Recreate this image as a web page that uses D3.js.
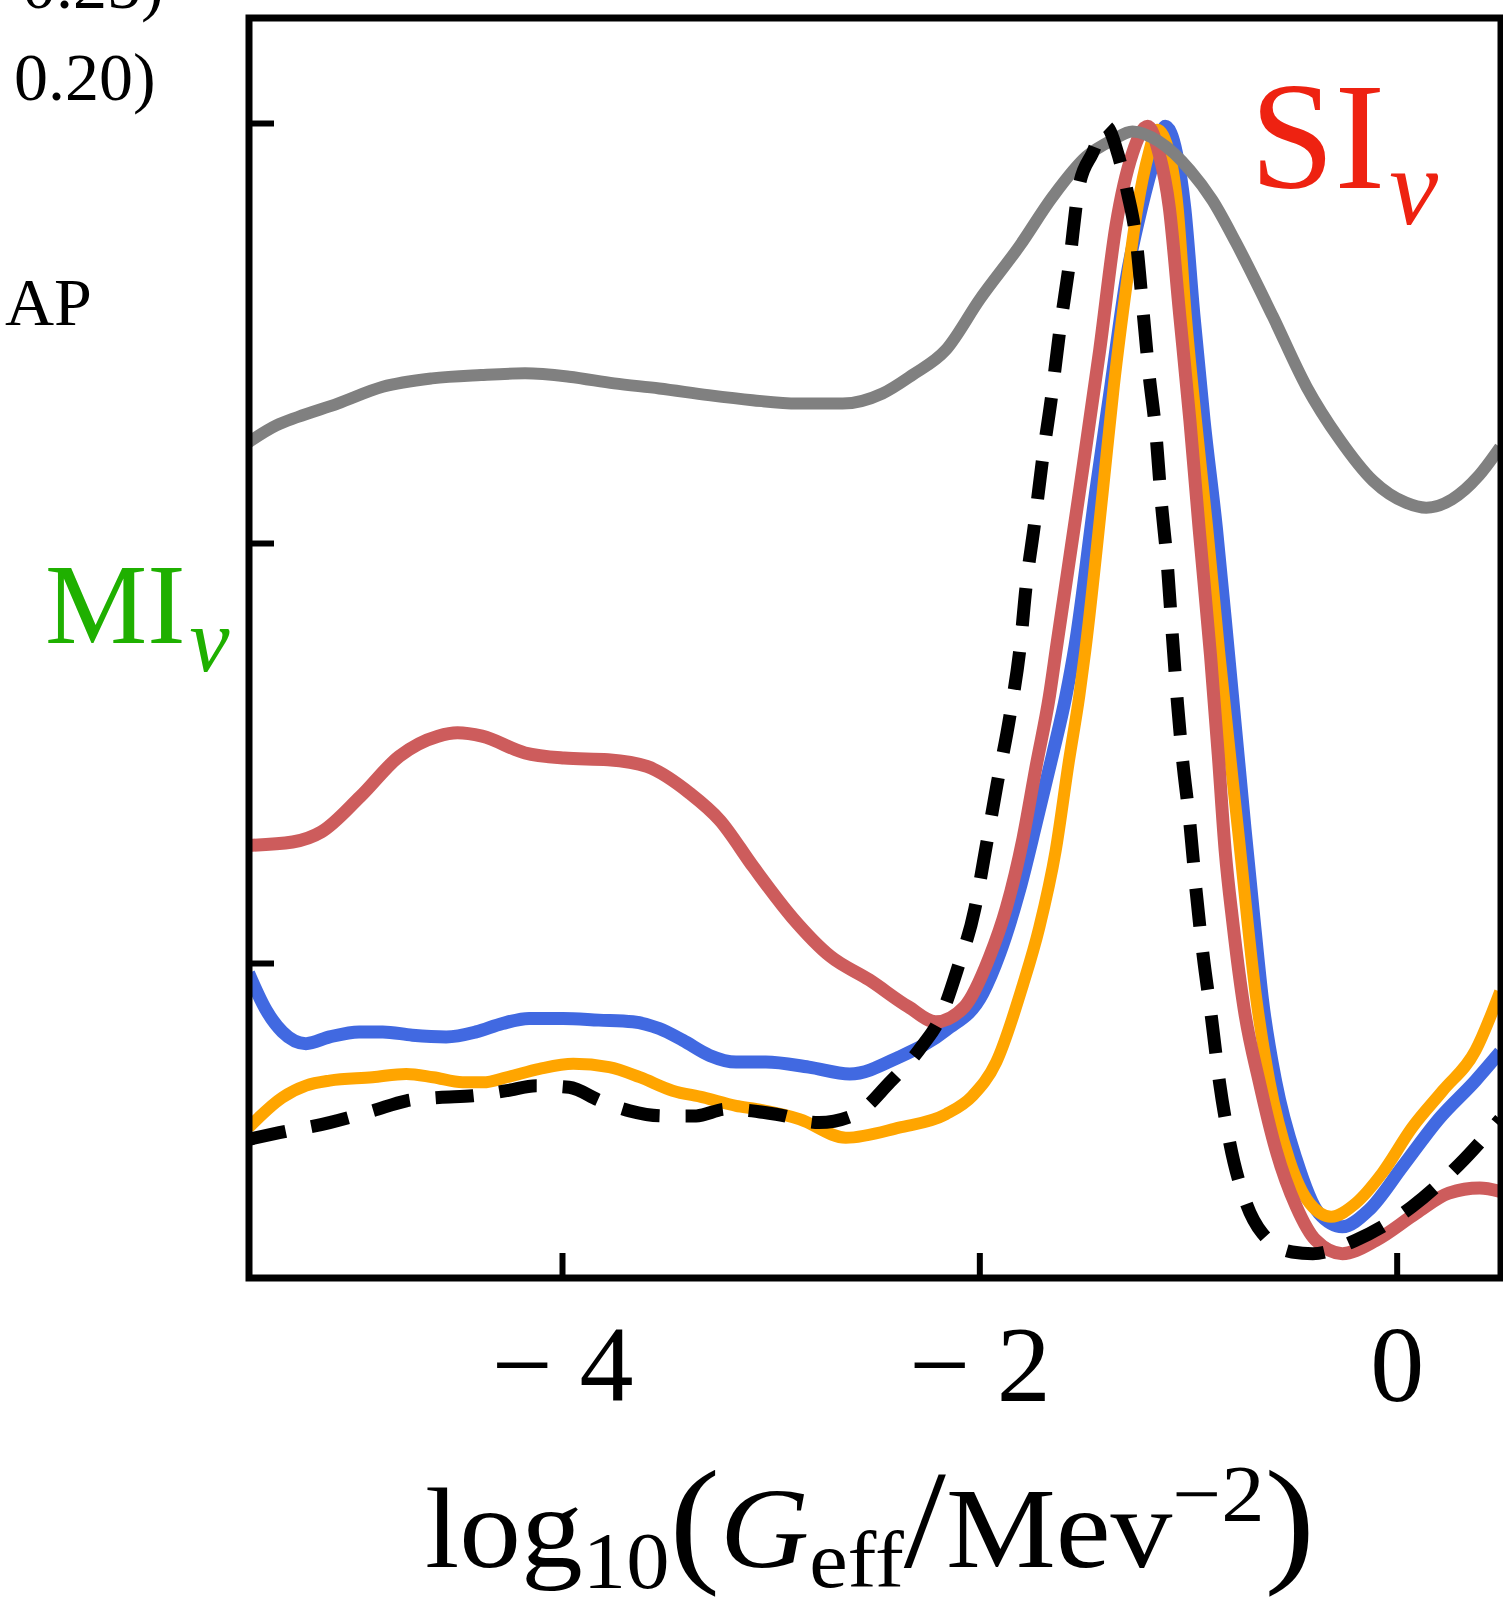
<!DOCTYPE html>
<html>
<head>
<meta charset="utf-8">
<script src="https://cdn.jsdelivr.net/npm/d3@7"></script>
<style>
  body { margin: 0; background: #fff; }
  svg { display: block; }
  text { font-family: "Liberation Serif", "DejaVu Serif", serif; }
</style>
</head>
<body>
<div id="viz"></div>
<script>
// x: log10(Geff / MeV^-2), y: relative posterior (peak normalised to the top tick)
const xDomain = [-5.5, 0.5]
const yDomain = [0.0625, 0.8125]
const xTicks = [-4, -2, 0]
const yTicks = [0.25, 0.5, 0.75]

const grayCurve = [
  [-5.502, 0.560], [-5.369, 0.570], [-5.266, 0.575], [-5.075, 0.583], [-4.859, 0.593],
  [-4.623, 0.598], [-4.388, 0.600], [-4.177, 0.601], [-3.966, 0.599], [-3.750, 0.595],
  [-3.534, 0.592], [-3.298, 0.588], [-3.087, 0.585], [-2.871, 0.583], [-2.655, 0.583],
  [-2.464, 0.589], [-2.321, 0.600], [-2.160, 0.615], [-1.998, 0.645], [-1.806, 0.677],
  [-1.649, 0.706], [-1.487, 0.730], [-1.360, 0.740], [-1.266, 0.745], [-1.139, 0.739],
  [-0.991, 0.722], [-0.883, 0.704], [-0.771, 0.679], [-0.594, 0.635], [-0.432, 0.593],
  [-0.275, 0.562], [-0.113, 0.537], [0.044, 0.524], [0.142, 0.521], [0.265, 0.526],
  [0.393, 0.540], [0.496, 0.557]
]

const blueCurve = [
  [-5.502, 0.244], [-5.418, 0.222], [-5.340, 0.209], [-5.227, 0.202], [-5.114, 0.206],
  [-4.972, 0.209], [-4.859, 0.209], [-4.717, 0.207], [-4.555, 0.206], [-4.412, 0.209],
  [-4.285, 0.214], [-4.157, 0.217], [-3.995, 0.217], [-3.823, 0.216], [-3.661, 0.215],
  [-3.534, 0.211], [-3.421, 0.204], [-3.293, 0.195], [-3.166, 0.191], [-3.023, 0.191],
  [-2.817, 0.188], [-2.621, 0.184], [-2.385, 0.194], [-2.160, 0.210], [-1.983, 0.232],
  [-1.904, 0.255], [-1.806, 0.294], [-1.728, 0.333], [-1.649, 0.374], [-1.585, 0.409],
  [-1.541, 0.439], [-1.443, 0.530], [-1.369, 0.594], [-1.296, 0.657], [-1.222, 0.700],
  [-1.153, 0.732], [-1.109, 0.748], [-1.055, 0.732], [-1.016, 0.700], [-0.972, 0.636],
  [-0.923, 0.573], [-0.864, 0.509], [-0.805, 0.433], [-0.726, 0.329], [-0.682, 0.274],
  [-0.643, 0.228], [-0.579, 0.179], [-0.481, 0.133], [-0.373, 0.101], [-0.260, 0.093],
  [-0.133, 0.103], [0.029, 0.129], [0.201, 0.157], [0.378, 0.180], [0.496, 0.197]
]

const orangeCurve = [
  [-5.502, 0.152], [-5.340, 0.170], [-5.227, 0.177], [-5.114, 0.180], [-4.908, 0.182],
  [-4.746, 0.184], [-4.618, 0.182], [-4.476, 0.179], [-4.378, 0.179], [-4.265, 0.182],
  [-4.108, 0.187], [-3.946, 0.190], [-3.774, 0.188], [-3.627, 0.182], [-3.470, 0.174],
  [-3.323, 0.170], [-3.166, 0.165], [-3.067, 0.163], [-2.861, 0.157], [-2.640, 0.146],
  [-2.385, 0.152], [-2.160, 0.160], [-2.032, 0.171], [-1.919, 0.191], [-1.791, 0.237],
  [-1.713, 0.271], [-1.634, 0.317], [-1.571, 0.370], [-1.521, 0.409], [-1.492, 0.436],
  [-1.409, 0.530], [-1.355, 0.594], [-1.291, 0.657], [-1.242, 0.700], [-1.188, 0.732],
  [-1.148, 0.746], [-1.090, 0.732], [-1.050, 0.700], [-1.011, 0.636], [-0.962, 0.573],
  [-0.908, 0.509], [-0.849, 0.433], [-0.760, 0.329], [-0.672, 0.228], [-0.609, 0.179],
  [-0.515, 0.133], [-0.417, 0.107], [-0.314, 0.099], [-0.196, 0.107], [-0.069, 0.125],
  [0.074, 0.152], [0.221, 0.174], [0.378, 0.198], [0.496, 0.233]
]

const redCurve = [
  [-5.502, 0.320], [-5.291, 0.322], [-5.153, 0.328], [-4.967, 0.349], [-4.780, 0.373],
  [-4.594, 0.385], [-4.501, 0.387], [-4.383, 0.385], [-4.177, 0.375], [-3.990, 0.372],
  [-3.779, 0.371], [-3.593, 0.367], [-3.387, 0.351], [-3.244, 0.335], [-3.082, 0.307],
  [-2.896, 0.277], [-2.714, 0.254], [-2.528, 0.240], [-2.341, 0.224], [-2.209, 0.215],
  [-2.071, 0.224], [-1.953, 0.253], [-1.870, 0.283], [-1.791, 0.324], [-1.728, 0.367],
  [-1.664, 0.409], [-1.629, 0.439], [-1.521, 0.530], [-1.423, 0.615], [-1.345, 0.689],
  [-1.266, 0.732], [-1.193, 0.748], [-1.139, 0.732], [-1.090, 0.700], [-1.040, 0.636],
  [-0.991, 0.573], [-0.947, 0.509], [-0.892, 0.433], [-0.855, 0.374], [-0.822, 0.317],
  [-0.785, 0.274], [-0.730, 0.222], [-0.658, 0.179], [-0.579, 0.139], [-0.481, 0.105],
  [-0.388, 0.085], [-0.260, 0.077], [-0.098, 0.085], [0.093, 0.101], [0.250, 0.113],
  [0.398, 0.116], [0.496, 0.114]
]

const dashedCurve = [
  [-5.502, 0.145], [-5.355, 0.149], [-5.114, 0.155], [-4.908, 0.162], [-4.746, 0.168],
  [-4.589, 0.170], [-4.427, 0.171], [-4.265, 0.174], [-4.123, 0.177], [-3.966, 0.176],
  [-3.818, 0.168], [-3.676, 0.162], [-3.519, 0.159], [-3.357, 0.159], [-3.215, 0.163],
  [-2.974, 0.160], [-2.768, 0.155], [-2.591, 0.160], [-2.429, 0.179], [-2.272, 0.201],
  [-2.189, 0.217], [-2.106, 0.246], [-2.022, 0.282], [-1.968, 0.319], [-1.914, 0.357],
  [-1.855, 0.396], [-1.801, 0.442], [-1.777, 0.473], [-1.737, 0.510], [-1.698, 0.549],
  [-1.654, 0.587], [-1.615, 0.626], [-1.571, 0.664], [-1.521, 0.713], [-1.458, 0.732],
  [-1.394, 0.748], [-1.330, 0.729], [-1.291, 0.709], [-1.247, 0.679], [-1.217, 0.640],
  [-1.188, 0.602], [-1.153, 0.564], [-1.129, 0.526], [-1.099, 0.487], [-1.075, 0.445],
  [-1.050, 0.404], [-1.026, 0.371], [-0.991, 0.333], [-0.962, 0.294], [-0.928, 0.255],
  [-0.888, 0.218], [-0.849, 0.179], [-0.800, 0.143], [-0.721, 0.107], [-0.643, 0.089],
  [-0.501, 0.078], [-0.402, 0.077], [-0.196, 0.085], [0.074, 0.105], [0.299, 0.130],
  [0.496, 0.157]
]

const series = [
  {name: "blue", data: blueCurve, color: "#4169e1", width: 13, dash: null},
  {name: "orange", data: orangeCurve, color: "#ffa500", width: 12, dash: null},
  {name: "red", data: redCurve, color: "#cd5c5c", width: 13, dash: null},
  {name: "gray", data: grayCurve, color: "#808080", width: 12, dash: null},
  {name: "dashed", data: dashedCurve, color: "#000000", width: 13, dash: "38,26"}
]

const width = 1503
const height = 1606
const margin = {top: 18, right: 2, bottom: 328, left: 249}
const innerW = width - margin.left - margin.right
const innerH = height - margin.top - margin.bottom

const svg = d3.select("#viz").append("svg").attr("width", width).attr("height", height)

const wrapper = svg.append("g").attr("transform", `translate(${margin.left},${margin.top})`)

const xScale = d3.scaleLinear().domain(xDomain).range([0, innerW])
const yScale = d3.scaleLinear().domain(yDomain).range([innerH, 0])

wrapper.append("clipPath").attr("id", "plotclip")
  .append("rect").attr("width", innerW).attr("height", innerH)

const line = d3.line()
  .x(d => xScale(d[0]))
  .y(d => yScale(d[1]))
  .curve(d3.curveMonotoneX)

wrapper.append("g").attr("clip-path", "url(#plotclip)")
  .selectAll("path")
  .data(series)
  .join("path")
  .attr("d", d => line(d.data))
  .attr("fill", "none")
  .attr("stroke", d => d.color)
  .attr("stroke-width", d => d.width)
  .attr("stroke-dasharray", d => d.dash)
  .attr("stroke-linejoin", "round")

// axes: inward ticks, labels only on x
const xAxis = d3.axisBottom(xScale).tickValues(xTicks).tickSizeInner(-25).tickSizeOuter(0)
  .tickFormat(d => d < 0 ? "\u2212\u2005" + Math.abs(d) : String(d))
const gx = wrapper.append("g").attr("transform", `translate(0,${innerH})`).call(xAxis)
gx.select(".domain").remove()
gx.selectAll(".tick line").attr("stroke", "#000").attr("stroke-width", 6)
gx.selectAll(".tick text")
  .attr("y", 123).attr("dy", 0)
  .attr("font-size", 108)
  .attr("font-family", "Liberation Serif, serif")
  .attr("fill", "#000")

const yAxis = d3.axisLeft(yScale).tickValues(yTicks).tickSizeInner(-25).tickSizeOuter(0).tickFormat("")
const gy = wrapper.append("g").call(yAxis)
gy.select(".domain").remove()
gy.selectAll(".tick line").attr("stroke", "#000").attr("stroke-width", 6)

wrapper.append("rect")
  .attr("width", innerW).attr("height", innerH)
  .attr("fill", "none").attr("stroke", "#000").attr("stroke-width", 7)

// x label, stretched to the width of the original typeset label
const xl = svg.append("text").attr("x", 425).attr("y", 1567).attr("font-size", 114).attr("fill", "#000")
  .attr("textLength", 890).attr("lengthAdjust", "spacingAndGlyphs")
xl.append("tspan").text("log")
xl.append("tspan").attr("font-size", 80).attr("dy", 21).text("10")
xl.append("tspan").attr("font-size", 140).attr("dy", -21).text("(")
xl.append("tspan").attr("font-style", "italic").text("G")
xl.append("tspan").attr("font-size", 80).attr("dy", 20).text("eff")
xl.append("tspan").attr("font-size", 140).attr("dy", -20).text("/")
xl.append("tspan").text("Mev")
xl.append("tspan").attr("font-size", 80).attr("dy", -46).text("\u22122")
xl.append("tspan").attr("font-size", 140).attr("dy", 46).text(")")

// fragments of a neighbouring legend, cut by the figure edge
svg.append("text").attr("x", 22).attr("y", 8).attr("font-size", 68).text("0.25)")
svg.append("text").attr("x", 14).attr("y", 100).attr("font-size", 68).text("0.20)")
svg.append("text").attr("x", 5).attr("y", 325).attr("font-size", 68).text("AP")

// region labels
const mi = svg.append("text").attr("x", 45).attr("y", 643).attr("font-size", 115).attr("fill", "#1fb000")
mi.append("tspan").text("MI")
mi.append("tspan").attr("font-size", 90).attr("font-style", "italic").attr("dx", 4).attr("dy", 28).text("\u03bd")

const si = svg.append("text").attr("x", 1250).attr("y", 188).attr("font-size", 152).attr("fill", "#ee2211")
si.append("tspan").text("SI")
si.append("tspan").attr("font-size", 110).attr("font-style", "italic").attr("dx", 4).attr("dy", 36).text("\u03bd")
</script>
</body>
</html>
